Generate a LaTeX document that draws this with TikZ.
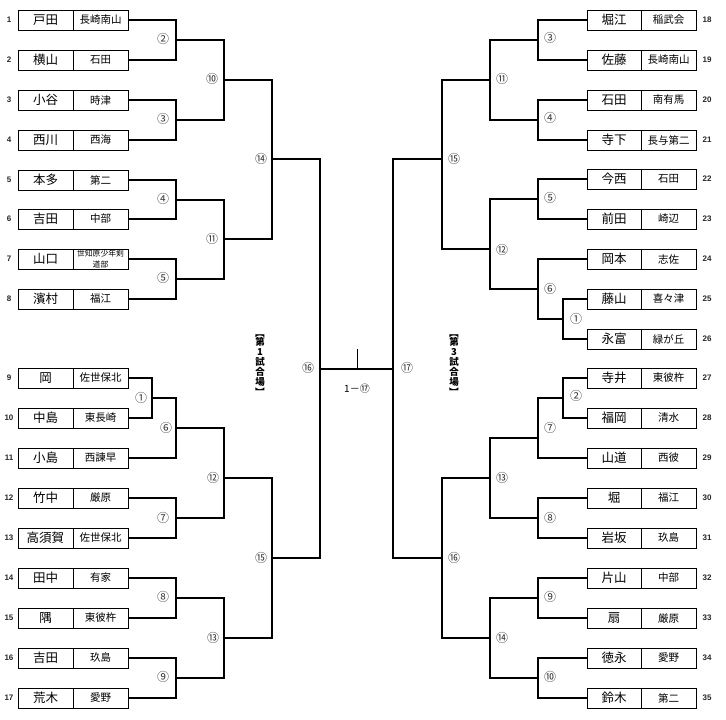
\documentclass[tikz,border=0pt]{standalone}
\usepackage{fontspec}
\setmainfont{Noto Sans CJK JP}
\newfontfamily\jp{Noto Sans CJK JP}
\newfontfamily\lat{Liberation Sans}
\tikzset{
  namebox/.style={draw, line width=0.9pt, minimum width=55pt, minimum height=20pt, inner sep=0pt, font=\jp\fontsize{12.5}{12.5}\selectfont},
  schbox/.style={draw, line width=0.9pt, minimum width=55pt, minimum height=20pt, inner sep=0pt, font=\jp\fontsize{10.5}{10.5}\selectfont},
  numlbl/.style={inner sep=0pt, font=\lat\bfseries\fontsize{8}{8}\selectfont, text=black!85},
  mlbl/.style={inner sep=0pt, font=\jp\fontsize{12}{12}\selectfont, text=black!80},
  br/.style={line width=1.1pt},
  vtext/.style={inner sep=0pt, align=center, font=\jp\bfseries\fontsize{9.5}{9.9}\selectfont},
  vbrk/.style={inner sep=0pt, rotate=-90, font=\jp\bfseries\fontsize{9.5}{9.9}\selectfont}
}
\newcommand\Lent[4]{%
  \node[numlbl] (k#1) at (9,#2) {#1};
  \node[namebox] (n#1) at (45.5,#2) {#3};
  \node[schbox] (s#1) at (100.5,#2) {#4};}
\newcommand\Rent[4]{%
  \node[namebox, minimum width=54pt] (n#1) at (614,#2) {#3};
  \node[schbox] (s#1) at (668.5,#2) {#4};
  \node[numlbl] (k#1) at (707,#2) {#1};}
\begin{document}
\begin{tikzpicture}[x=1pt,y=-1pt]
\useasboundingbox (0,0) rectangle (726,720);
% left entries
\Lent{1}{20}{戸田}{長崎南山}
\Lent{2}{60}{横山}{石田}
\Lent{3}{100}{小谷}{時津}
\Lent{4}{140}{西川}{西海}
\Lent{5}{180}{本多}{第二}
\Lent{6}{219}{吉田}{中部}
\Lent{7}{259}{山口}{\fontsize{7.8}{8.6}\selectfont\shortstack{世知原少年剣\\道部}}
\Lent{8}{299}{濱村}{福江}
\Lent{9}{378}{岡}{佐世保北}
\Lent{10}{418}{中島}{東長崎}
\Lent{11}{458}{小島}{西諫早}
\Lent{12}{498}{竹中}{厳原}
\Lent{13}{538}{高須賀}{佐世保北}
\Lent{14}{578}{田中}{有家}
\Lent{15}{618}{隅}{東彼杵}
\Lent{16}{658}{吉田}{玖島}
\Lent{17}{698}{荒木}{愛野}
% right entries
\Rent{18}{20}{堀江}{稲武会}
\Rent{19}{60}{佐藤}{長崎南山}
\Rent{20}{100}{石田}{南有馬}
\Rent{21}{140}{寺下}{長与第二}
\Rent{22}{179}{今西}{石田}
\Rent{23}{219}{前田}{崎辺}
\Rent{24}{259}{岡本}{志佐}
\Rent{25}{299}{藤山}{喜々津}
\Rent{26}{339}{永富}{緑が丘}
\Rent{27}{378}{寺井}{東彼杵}
\Rent{28}{418}{福岡}{清水}
\Rent{29}{458}{山道}{西彼}
\Rent{30}{498}{堀}{福江}
\Rent{31}{538}{岩坂}{玖島}
\Rent{32}{578}{片山}{中部}
\Rent{33}{618}{扇}{厳原}
\Rent{34}{658}{徳永}{愛野}
\Rent{35}{698}{鈴木}{第二}
% left match points
\coordinate (m2) at (176,40);
\coordinate (m3) at (176,120);
\coordinate (m4) at (176,200);
\coordinate (m5) at (176,279);
\coordinate (m10) at (224,80);
\coordinate (m11) at (224,239);
\coordinate (m14) at (272,159);
\coordinate (m1) at (152,398);
\coordinate (m6) at (176,428);
\coordinate (m7) at (176,518);
\coordinate (m12) at (224,478);
\coordinate (m8) at (176,598);
\coordinate (m9) at (176,678);
\coordinate (m13) at (224,638);
\coordinate (m15) at (272,558);
\coordinate (m16) at (320,369);
% right match points
\coordinate (r3) at (538,40);
\coordinate (r4) at (538,120);
\coordinate (r11) at (490,80);
\coordinate (r5) at (538,199);
\coordinate (r1) at (563,319);
\coordinate (r6) at (538,289);
\coordinate (r12) at (490,249);
\coordinate (r15) at (442,159);
\coordinate (r2) at (563,398);
\coordinate (r7) at (538,438);
\coordinate (r8) at (538,518);
\coordinate (r13) at (490,478);
\coordinate (r9) at (538,598);
\coordinate (r10) at (538,678);
\coordinate (r14) at (490,638);
\coordinate (r16) at (442,558);
\coordinate (r17) at (393,369);
\coordinate (tick) at (357,349);
% left brackets
\draw[br] (s1.east) -| (m2) |- (s2.east);
\draw[br] (s3.east) -| (m3) |- (s4.east);
\draw[br] (s5.east) -| (m4) |- (s6.east);
\draw[br] (s7.east) -| (m5) |- (s8.east);
\draw[br] (m2) -| (m10) |- (m3);
\draw[br] (m4) -| (m11) |- (m5);
\draw[br] (m10) -| (m14) |- (m11);
\draw[br] (s9.east) -| (m1) |- (s10.east);
\draw[br] (m1) -| (m6) |- (s11.east);
\draw[br] (s12.east) -| (m7) |- (s13.east);
\draw[br] (m6) -| (m12) |- (m7);
\draw[br] (s14.east) -| (m8) |- (s15.east);
\draw[br] (s16.east) -| (m9) |- (s17.east);
\draw[br] (m8) -| (m13) |- (m9);
\draw[br] (m12) -| (m15) |- (m13);
\draw[br] (m14) -| (m16) |- (m15);
% right brackets
\draw[br] (n18.west) -| (r3) |- (n19.west);
\draw[br] (n20.west) -| (r4) |- (n21.west);
\draw[br] (r3) -| (r11) |- (r4);
\draw[br] (n22.west) -| (r5) |- (n23.west);
\draw[br] (n25.west) -| (r1) |- (n26.west);
\draw[br] (n24.west) -| (r6) |- (r1);
\draw[br] (r5) -| (r12) |- (r6);
\draw[br] (r11) -| (r15) |- (r12);
\draw[br] (n27.west) -| (r2) |- (n28.west);
\draw[br] (r2) -| (r7) |- (n29.west);
\draw[br] (n30.west) -| (r8) |- (n31.west);
\draw[br] (r7) -| (r13) |- (r8);
\draw[br] (n32.west) -| (r9) |- (n33.west);
\draw[br] (n34.west) -| (r10) |- (n35.west);
\draw[br] (r9) -| (r14) |- (r10);
\draw[br] (r13) -| (r16) |- (r14);
\draw[br] (r15) -| (r17) |- (r16);
% final
\draw[br] (m16) -- (r17);
\draw[line width=0.9pt] (tick) -- (tick |- m16);
% match labels left
\node[mlbl] (L2) at (163,39) {②};
\node[mlbl] (L3) at (163,119) {③};
\node[mlbl] (L4) at (163,199) {④};
\node[mlbl] (L5) at (163,278) {⑤};
\node[mlbl] (L10) at (212,79) {⑩};
\node[mlbl] (L11) at (212,239) {⑪};
\node[mlbl] (L14) at (261,159) {⑭};
\node[mlbl] (L1) at (141,398) {①};
\node[mlbl] (L6) at (166,428) {⑥};
\node[mlbl] (L7) at (163,518) {⑦};
\node[mlbl] (L12) at (213,478) {⑫};
\node[mlbl] (L8) at (163,597) {⑧};
\node[mlbl] (L9) at (163,677) {⑨};
\node[mlbl] (L13) at (213,638) {⑬};
\node[mlbl] (L15) at (261,558) {⑮};
\node[mlbl] (L16) at (308,368) {⑯};
% match labels right
\node[mlbl] (R3) at (550,38) {③};
\node[mlbl] (R4) at (550,118) {④};
\node[mlbl] (R11) at (502,79) {⑪};
\node[mlbl] (R5) at (550,198) {⑤};
\node[mlbl] (R6) at (550,289) {⑥};
\node[mlbl] (R1) at (576,319) {①};
\node[mlbl] (R12) at (502,250) {⑫};
\node[mlbl] (R15) at (454,159) {⑮};
\node[mlbl] (R2) at (576,396) {②};
\node[mlbl] (R7) at (550,428) {⑦};
\node[mlbl] (R8) at (550,518) {⑧};
\node[mlbl] (R13) at (502,478) {⑬};
\node[mlbl] (R9) at (550,597) {⑨};
\node[mlbl] (R10) at (550,677) {⑩};
\node[mlbl] (R14) at (502,638) {⑭};
\node[mlbl] (R16) at (454,558) {⑯};
\node[mlbl] (R17) at (407,368) {⑰};
% center texts
\node[inner sep=0pt, font=\jp\fontsize{10}{10}\selectfont] (fin) at (357,389) {1－⑰};
\node[vtext] (v1) at (260,362) {第\\1\\試\\合\\場};
\node[vbrk] (v1a) at (260,333) {【};
\node[vbrk] (v1b) at (260,392) {】};
\node[vtext] (v3) at (454,362) {第\\3\\試\\合\\場};
\node[vbrk] (v3a) at (454,333) {【};
\node[vbrk] (v3b) at (454,392) {】};
\end{tikzpicture}
\end{document}
